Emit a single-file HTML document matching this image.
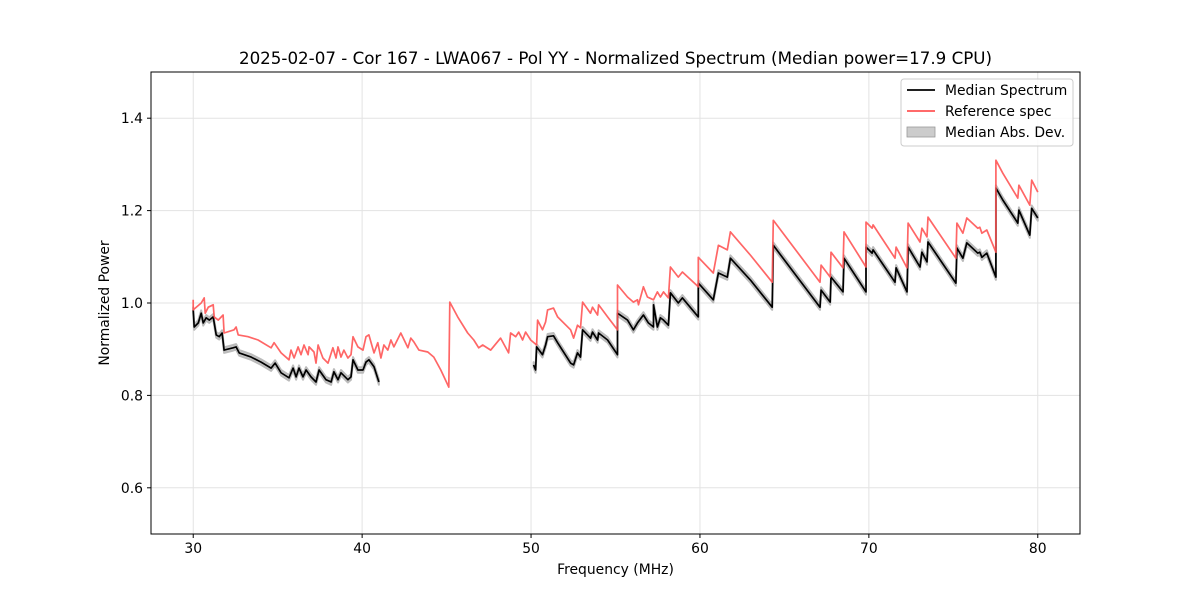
<!DOCTYPE html>
<html><head><meta charset="utf-8"><style>
body{margin:0;background:#fff;}
svg{display:block;font-family:"DejaVu Sans","Liberation Sans",sans-serif;}
</style></head><body>
<svg id="chart" width="1200" height="600" viewBox="0 0 1200 600" xmlns="http://www.w3.org/2000/svg">
<rect x="0" y="0" width="1200" height="600" fill="#fff"/>
<g id="grid"></g>
<g id="marks"></g>
<rect x="151" y="72" width="929" height="462" fill="none" stroke="#000" stroke-width="1"/>
<g id="ticks"></g>
<text x="615.5" y="64" font-size="16.7" text-anchor="middle">2025-02-07 - Cor 167 - LWA067 - Pol YY - Normalized Spectrum (Median power=17.9 CPU)</text>
<text x="615.5" y="574" font-size="13.9" text-anchor="middle">Frequency (MHz)</text>
<text transform="translate(109,303) rotate(-90)" font-size="13.9" text-anchor="middle">Normalized Power</text>
<g>
<rect x="901" y="79" width="172" height="67" rx="3" fill="#fff" fill-opacity="0.8" stroke="#ccc"/>
<g><line x1="907" y1="90" x2="935" y2="90" stroke="#000" stroke-width="1.7"/><text x="945" y="95" font-size="13.9">Median Spectrum</text></g>
<g><line x1="907" y1="111" x2="935" y2="111" stroke="#ff5555" stroke-width="1.7"/><text x="945" y="116" font-size="13.9">Reference spec</text></g>
<g><rect x="907" y="127" width="28" height="10" fill="#bbb" fill-opacity="0.75" stroke="#999" stroke-width="0.8"/><text x="945" y="137" font-size="13.9">Median Abs. Dev.</text></g>
</g>
</svg>
<script>
const xTicks=[30,40,50,60,70,80];
const yTicks=[0.6,0.8,1.0,1.2,1.4];
const yTickLabels=["0.6","0.8","1.0","1.2","1.4"];
const refFreq=[30.00,30.00,30.47,30.65,30.71,30.89,31.18,31.24,31.48,31.77,31.83,32.42,32.54,32.66,33.25,33.84,34.61,34.79,35.20,35.67,35.79,35.97,36.21,36.38,36.56,36.80,36.86,37.15,37.27,37.39,37.68,37.98,38.27,38.45,38.57,38.75,38.92,39.16,39.34,39.46,39.75,40.05,40.23,40.40,40.70,40.93,41.11,41.29,41.52,41.70,41.88,42.29,42.71,42.88,43.06,43.36,43.89,44.24,44.66,45.13,45.19,45.66,46.25,46.61,46.90,47.14,47.61,48.20,48.67,48.79,49.09,49.27,49.50,49.68,49.98,50.33,50.39,50.68,50.86,50.98,51.33,51.57,52.34,52.52,52.75,52.93,53.05,53.52,53.64,53.94,54.00,54.53,55.12,55.12,55.71,56.06,56.30,56.36,56.65,56.89,57.25,57.48,57.66,57.84,58.13,58.25,58.72,58.96,59.90,59.90,60.79,61.09,61.62,61.80,62.98,64.28,64.34,67.11,67.17,67.71,67.76,68.47,68.53,69.83,69.83,70.19,70.25,71.55,71.61,72.26,72.32,73.03,73.14,73.44,73.50,75.15,75.21,75.57,75.80,76.45,76.57,76.69,76.98,77.52,77.52,77.93,78.82,78.88,79.53,79.64,80.00];
const refPower=[1.007,0.985,1.000,1.011,0.978,0.991,0.996,0.970,0.963,0.974,0.935,0.942,0.948,0.931,0.927,0.920,0.903,0.914,0.892,0.877,0.898,0.881,0.905,0.888,0.909,0.888,0.905,0.894,0.870,0.909,0.881,0.870,0.903,0.881,0.905,0.883,0.898,0.881,0.888,0.927,0.905,0.898,0.927,0.931,0.892,0.914,0.881,0.909,0.898,0.920,0.905,0.935,0.903,0.924,0.916,0.898,0.894,0.883,0.855,0.818,1.002,0.970,0.935,0.920,0.903,0.909,0.898,0.924,0.892,0.935,0.927,0.937,0.920,0.937,0.920,0.909,0.963,0.942,0.959,0.985,0.989,0.970,0.942,0.924,0.952,0.946,1.002,0.978,0.991,0.974,0.996,0.970,0.942,1.039,1.013,1.002,1.007,0.996,1.035,1.013,1.007,1.024,1.013,1.024,1.011,1.078,1.056,1.067,1.035,1.099,1.065,1.125,1.115,1.154,1.104,1.045,1.179,1.045,1.082,1.056,1.110,1.076,1.154,1.078,1.175,1.162,1.169,1.097,1.121,1.076,1.173,1.132,1.162,1.143,1.186,1.097,1.173,1.151,1.184,1.162,1.164,1.151,1.158,1.110,1.309,1.281,1.227,1.255,1.212,1.266,1.240];
const medFreq=[30.00,30.06,30.30,30.47,30.59,30.77,30.95,31.18,31.36,31.54,31.71,31.83,32.36,32.54,32.72,33.43,34.02,34.61,34.85,35.20,35.67,35.91,36.09,36.26,36.50,36.68,36.97,37.27,37.45,37.86,38.16,38.33,38.57,38.75,39.16,39.34,39.46,39.75,40.05,40.23,40.40,40.70,40.99,null,50.15,50.27,50.33,50.68,50.86,50.98,51.33,51.57,52.34,52.52,52.75,52.93,53.05,53.52,53.64,53.94,54.00,54.53,55.12,55.12,55.71,56.06,56.30,56.65,56.95,57.25,57.25,57.48,57.66,57.84,58.13,58.25,58.72,58.96,59.90,59.90,60.79,61.09,61.62,61.80,62.98,64.28,64.34,67.11,67.17,67.71,67.76,68.47,68.53,69.83,69.83,70.19,70.25,71.55,71.61,72.26,72.32,73.03,73.14,73.44,73.50,75.15,75.21,75.57,75.80,76.45,76.57,76.69,76.98,77.52,77.52,77.93,78.82,78.88,79.53,79.64,80.00];
const medPower=[0.985,0.948,0.957,0.978,0.957,0.968,0.963,0.970,0.931,0.927,0.935,0.898,0.903,0.905,0.892,0.883,0.872,0.859,0.870,0.849,0.838,0.859,0.840,0.859,0.840,0.855,0.840,0.829,0.855,0.834,0.829,0.851,0.834,0.849,0.834,0.840,0.877,0.855,0.855,0.872,0.877,0.862,0.829,null,0.866,0.855,0.905,0.888,0.909,0.927,0.929,0.914,0.870,0.866,0.892,0.883,0.942,0.924,0.937,0.920,0.935,0.920,0.888,0.978,0.963,0.942,0.957,0.974,0.957,0.948,0.996,0.948,0.968,0.963,0.952,1.022,1.000,1.011,0.970,1.043,1.007,1.065,1.056,1.097,1.050,0.991,1.125,0.991,1.028,1.002,1.056,1.024,1.097,1.024,1.121,1.108,1.115,1.045,1.076,1.024,1.121,1.078,1.110,1.089,1.132,1.043,1.119,1.097,1.130,1.108,1.110,1.099,1.108,1.056,1.249,1.223,1.173,1.201,1.147,1.205,1.184];
const madDev=[0.006];

const X0=151,X1=1080,Y0=534,Y1=72,XMIN=27.5,XMAX=82.5,YMIN=0.5,YMAX=1.5;
const sx=f=>X0+(f-XMIN)/(XMAX-XMIN)*(X1-X0);
const sy=v=>Y0-(v-YMIN)/(YMAX-YMIN)*(Y0-Y1);
const NS='http://www.w3.org/2000/svg';
function mk(tag,attrs,parent){const e=document.createElementNS(NS,tag);for(const k in attrs)e.setAttribute(k,attrs[k]);parent.appendChild(e);return e;}
const grid=document.getElementById('grid'),ticks=document.getElementById('ticks'),marks=document.getElementById('marks');
xTicks.forEach(t=>{
  const x=sx(t);
  const g=mk('line',{x1:x,x2:x,y1:Y1,y2:Y0,stroke:'#e3e3e3','stroke-width':1},grid);
  
  
  const tk=mk('line',{x1:x,x2:x,y1:Y0,y2:Y0+4,stroke:'#000'},ticks);
  
  
  const tx=mk('text',{x:x,y:Y0+19,'font-size':13.9,'text-anchor':'middle'},ticks);
  tx.textContent=String(t);
  
  
});
yTicks.forEach((t,i)=>{
  const y=sy(t);
  const g=mk('line',{x1:X0,x2:X1,y1:y,y2:y,stroke:'#e3e3e3','stroke-width':1},grid);
  
  
  const tk=mk('line',{x1:X0-4,x2:X0,y1:y,y2:y,stroke:'#000'},ticks);
  
  
  const tx=mk('text',{x:X0-8,y:y+5,'font-size':13.9,'text-anchor':'end'},ticks);
  tx.textContent=yTickLabels[i];
  
  
});
function pathFrom(fs,vs,off){let d='',pen=false;for(let i=0;i<fs.length;i++){if(fs[i]===null){pen=false;continue;}d+=(pen?'L':'M')+sx(fs[i]).toFixed(1)+' '+sy(vs[i]+off).toFixed(1);pen=true;}return d;}
function bandSegments(){let segs=[],cur=[];for(let i=0;i<medFreq.length;i++){if(medFreq[i]===null){segs.push(cur);cur=[];}else cur.push(i);}segs.push(cur);return segs;}
bandSegments().forEach(seg=>{
  let up=seg.map(i=>sx(medFreq[i]).toFixed(1)+','+sy(medPower[i]+madDev[0]).toFixed(1));
  let dn=seg.slice().reverse().map(i=>sx(medFreq[i]).toFixed(1)+','+sy(medPower[i]-madDev[0]).toFixed(1));
  const p=mk('polygon',{points:up.concat(dn).join(' '),fill:'#bbb','fill-opacity':0.75,stroke:'#bbb','stroke-width':2,'stroke-linejoin':'round'},marks);
  
  
});
const med=mk('path',{d:pathFrom(medFreq,medPower,0),fill:'none',stroke:'#000','stroke-width':1.7,'stroke-linejoin':'round'},marks);


const ref=mk('path',{d:pathFrom(refFreq,refPower,0),fill:'none',stroke:'#ff5555','stroke-width':1.7,'stroke-opacity':0.9,'stroke-linejoin':'round'},marks);


</script>
</body></html>
